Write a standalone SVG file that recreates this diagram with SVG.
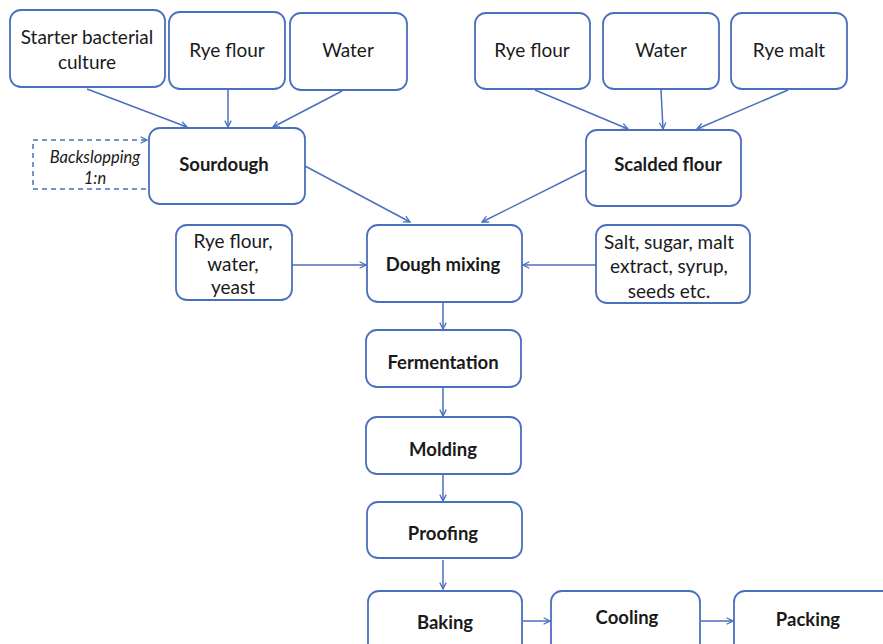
<svg xmlns="http://www.w3.org/2000/svg" width="883" height="644" viewBox="0 0 883 644">
<defs>
<marker id="ah" viewBox="0 0 10 10" refX="9" refY="5" markerWidth="8" markerHeight="8" orient="auto" markerUnits="userSpaceOnUse">
<path d="M1,1 L9,5 L1,9" fill="none" stroke="#4a6fbf" stroke-width="1.6"/>
</marker>
<style>
.box{fill:#fff;stroke:#4a6fbf;stroke-width:1.8}
.t{font-family:Lato,"Open Sans","Liberation Sans",sans-serif;font-size:19px;fill:#1a1a1a;text-anchor:middle;dominant-baseline:central}
.b{font-weight:bold;font-size:18.5px}
.i{font-style:italic;font-size:16.5px}
.c{fill:none;stroke:#4a6fbf;stroke-width:1.5;marker-end:url(#ah)}
.d{stroke-dasharray:5,4}
</style>
</defs>
<rect width="883" height="644" fill="#fff"/>
<g id="connectors">
<line class="c" x1="87" y1="89" x2="187" y2="127"/>
<line class="c" x1="228" y1="90" x2="228" y2="127"/>
<line class="c" x1="342" y1="91" x2="273" y2="127"/>
<polyline class="c d" points="146,189 33,189 33,140 147,140"/>
<line class="c" x1="305" y1="166" x2="410" y2="222"/>
<line class="c" x1="535" y1="90" x2="628" y2="129"/>
<line class="c" x1="661" y1="90" x2="663" y2="129"/>
<line class="c" x1="788" y1="90" x2="697" y2="129"/>
<line class="c" x1="586" y1="170" x2="482" y2="222"/>
<line class="c" x1="292" y1="265" x2="366" y2="265"/>
<line class="c" x1="596" y1="265" x2="523" y2="265"/>
<line class="c" x1="443" y1="302" x2="443" y2="329"/>
<line class="c" x1="443" y1="388" x2="443" y2="416"/>
<line class="c" x1="443" y1="475" x2="443" y2="501"/>
<line class="c" x1="443" y1="560" x2="443" y2="589"/>
<line class="c" x1="523" y1="621" x2="550" y2="621"/>
<line class="c" x1="701" y1="621" x2="733" y2="621"/>
</g>
<g id="starter"><rect class="box" x="10" y="10" width="155" height="77" rx="11"/><text class="t" x="87" y="36">Starter bacterial</text><text class="t" x="87" y="61">culture</text></g>
<g id="ryeflour1"><rect class="box" x="169" y="12" width="116" height="77" rx="11"/><text class="t" x="227" y="49">Rye flour</text></g>
<g id="water1"><rect class="box" x="290" y="13" width="117" height="77" rx="11"/><text class="t" x="348" y="49">Water</text></g>
<g id="backslopping"><text class="t i" x="95" y="157">Backslopping</text><text class="t i" x="95" y="178">1:n</text></g>
<g id="sourdough"><rect class="box" x="149" y="128" width="156" height="76" rx="11"/><text class="t b" x="224" y="164">Sourdough</text></g>
<g id="ryeflour2"><rect class="box" x="475" y="13" width="115" height="76" rx="11"/><text class="t" x="532" y="49">Rye flour</text></g>
<g id="water2"><rect class="box" x="603" y="13" width="116" height="76" rx="11"/><text class="t" x="661" y="49">Water</text></g>
<g id="ryemalt"><rect class="box" x="731" y="13" width="116" height="76" rx="11"/><text class="t" x="789" y="49">Rye malt</text></g>
<g id="scalded"><rect class="box" x="586" y="130" width="155" height="76" rx="11"/><text class="t b" x="668" y="164">Scalded flour</text></g>
<g id="ryewateryeast"><rect class="box" x="176" y="225" width="116" height="75" rx="11"/><text class="t" x="233" y="240">Rye flour,</text><text class="t" x="233" y="263">water,</text><text class="t" x="233" y="286">yeast</text></g>
<g id="doughmixing"><rect class="box" x="367" y="225" width="155" height="77" rx="11"/><text class="t b" x="443" y="264">Dough mixing</text></g>
<g id="salt"><rect class="box" x="596" y="225" width="154" height="78" rx="11"/><text class="t" x="669" y="241">Salt, sugar, malt</text><text class="t" x="669" y="265">extract, syrup,</text><text class="t" x="669" y="290">seeds etc.</text></g>
<g id="fermentation"><rect class="box" x="366" y="330" width="155" height="57" rx="11"/><text class="t b" x="443" y="362">Fermentation</text></g>
<g id="molding"><rect class="box" x="366" y="417" width="155" height="57" rx="11"/><text class="t b" x="443" y="449">Molding</text></g>
<g id="proofing"><rect class="box" x="367" y="502" width="155" height="56" rx="11"/><text class="t b" x="443" y="533">Proofing</text></g>
<g id="baking"><rect class="box" x="368" y="591" width="154" height="70" rx="11"/><text class="t b" x="445" y="622">Baking</text></g>
<g id="cooling"><rect class="box" x="551" y="591" width="149" height="70" rx="11"/><text class="t b" x="627" y="617">Cooling</text></g>
<g id="packing"><rect class="box" x="734" y="591" width="160" height="70" rx="11"/><text class="t b" x="808" y="619">Packing</text></g>
</svg>
